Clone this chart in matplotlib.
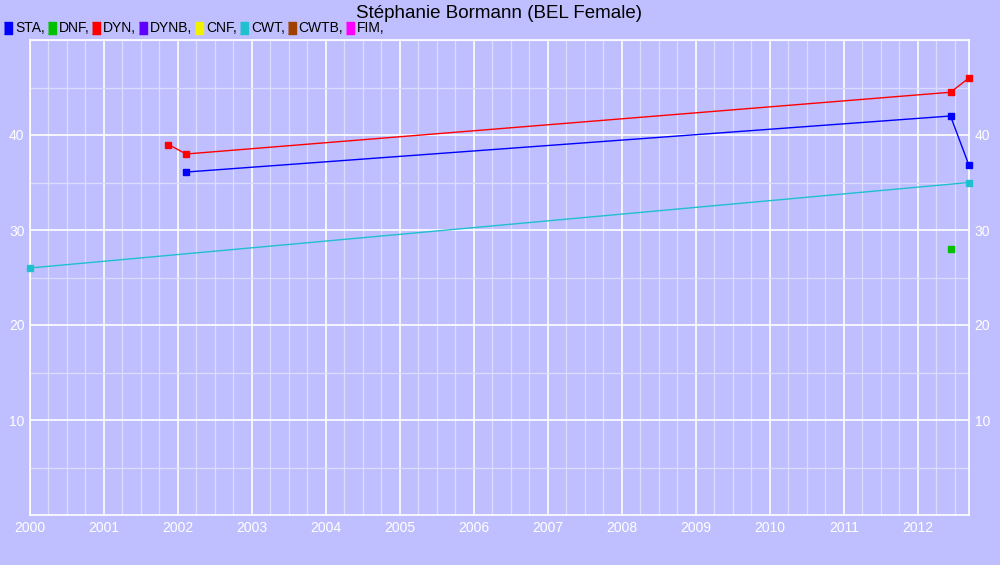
import numpy as np
import matplotlib.pyplot as plt
from matplotlib.lines import Line2D
from matplotlib.ticker import MultipleLocator

plt.rcParams['font.family'] = ['Liberation Sans', 'DejaVu Sans']

# Series: decimal year, value
sta_x = [2002.11, 2012.44, 2012.69]
sta_y = [36.1, 42.0, 36.8]
dnf_x = [2012.44]
dnf_y = [28.0]
dyn_x = [2001.87, 2002.11, 2012.44, 2012.69]
dyn_y = [39.0, 38.0, 44.5, 46.0]
cwt_x = [2000.0, 2012.69]
cwt_y = [26.0, 35.0]

legend_labels = ["STA,", "DNF,", "DYN,", "DYNB,", "CNF,", "CWT,", "CWTB,", "FIM,"]
legend_colors = ["#0000ff", "#00c000", "#ff0000", "#6000ff", "#f0f000", "#20c0d0", "#a04000", "#ff00ff"]
years = list(range(2000, 2013))

bg = "#bfbfff"
fig = plt.figure(figsize=(10, 5.65), dpi=100, facecolor=bg)
ax = fig.add_axes([0.030, 50 / 565, 0.939, 475 / 565])
ax.set_facecolor(bg)

kw = dict(lw=1, marker="s", ms=5, clip_on=False, zorder=4)
ax.plot(sta_x, sta_y, color="#0000ff", **kw)
ax.plot(dnf_x, dnf_y, color="#00c000", ls="none", **kw)
ax.plot(dyn_x, dyn_y, color="#ff0000", **kw)
ax.plot(cwt_x, cwt_y, color="#20c0d0", **kw)

ax.set_xlim(2000, 2012.69)
ax.set_ylim(0, 50)
ax.set_xticks(years)
ax.set_xticklabels([str(y) for y in years])
ax.xaxis.set_minor_locator(MultipleLocator(0.25))
ax.set_yticks([10, 20, 30, 40])
ax.yaxis.set_minor_locator(MultipleLocator(5))
ax.grid(which="major", color="white", lw=1.2)
ax.grid(which="minor", color="#dcdcff", lw=0.9)
ax.set_axisbelow(True)
for s in ax.spines.values():
    s.set_color("white")
    s.set_linewidth(1.2)
    s.set_zorder(2)
ax.tick_params(which="both", length=0, colors="white", labelsize=10,
               right=False, labelright=True, pad=4)

ax.set_title("Stéphanie Bormann (BEL Female)", fontsize=13.5, color="black", y=1.028)

rect = [(-0.3, -0.5), (0.3, -0.5), (0.3, 0.5), (-0.3, 0.5)]
handles = [Line2D([], [], color=c, marker=rect, ls="none", ms=9) for c in legend_colors]
fig.legend(handles, legend_labels, loc="upper left", bbox_to_anchor=(-0.001, 0.972), ncol=8,
           frameon=False, fontsize=10, handlelength=0.5, handletextpad=0.25,
           columnspacing=0.25, borderaxespad=0)

fig.savefig("out.png", dpi=100, facecolor=bg)
